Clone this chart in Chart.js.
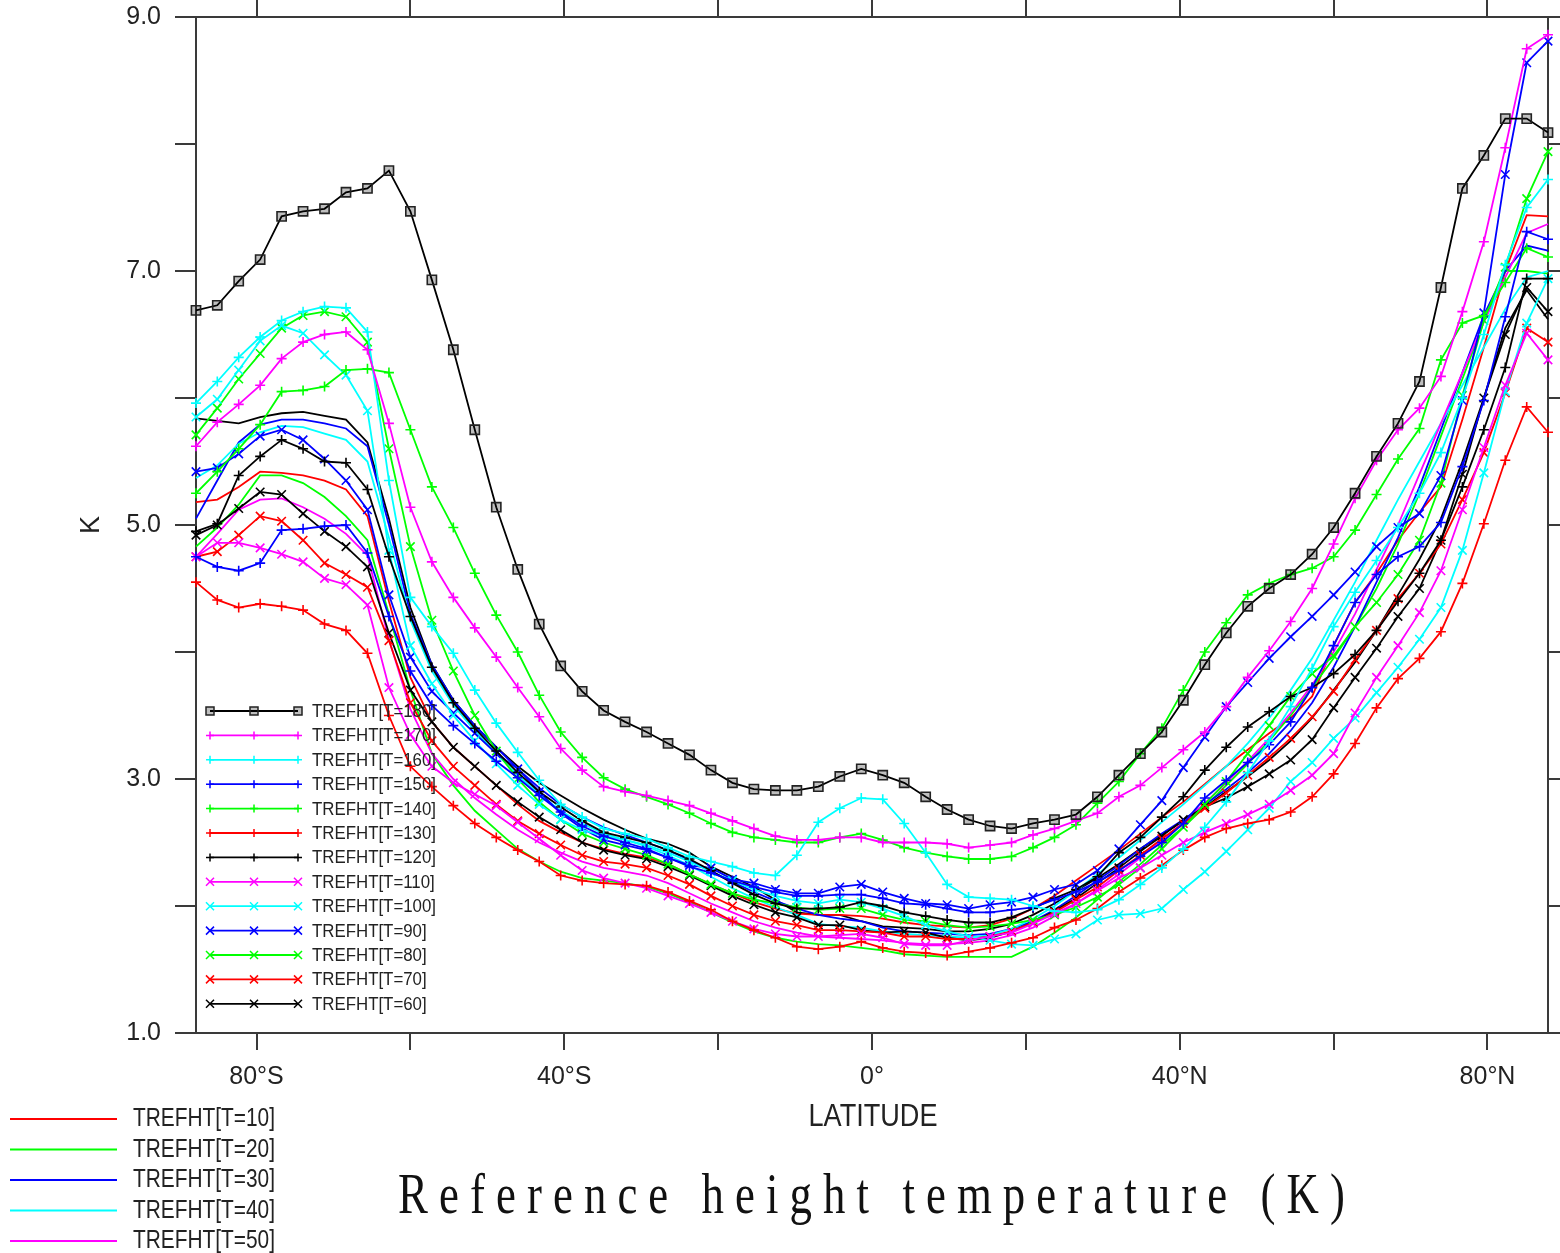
<!DOCTYPE html>
<html>
<head>
<meta charset="utf-8">
<script src="https://cdn.jsdelivr.net/npm/chart.js@4.4.1/dist/chart.umd.min.js"></script>
<style>
  html, body { margin: 0; padding: 0; background: #fff; }
  canvas { display: block; }
</style>
</head>
<body>
<canvas id="myChart" width="1560" height="1253"></canvas>
<script>
// T42 gaussian latitudes, north half (the south half mirrors it)
const northLats = [1.3953, 4.1859, 6.9765, 9.7671, 12.5578, 15.3484, 18.1390, 20.9296,
  23.7202, 26.5108, 29.3014, 32.0920, 34.8825, 37.6731, 40.4636, 43.2542,
  46.0447, 48.8352, 51.6257, 54.4162, 57.2066, 59.9970, 62.7874, 65.5776,
  68.3678, 71.1578, 73.9475, 76.7369, 79.5256, 82.3129, 85.0965, 87.8638];
const lats = northLats.slice().reverse().map(v => -v).concat(northLats);

const xTickValues = [-80, -60, -40, -20, 0, 20, 40, 60, 80];
const xTickLabels = ['80°S', '', '40°S', '', '0°', '', '40°N', '', '80°N'];
const yTickValues = [1, 2, 3, 4, 5, 6, 7, 8, 9];
const yTickLabels = ['1.0', '', '3.0', '', '5.0', '', '7.0', '', '9.0'];

const t180 = [6.69,6.73,6.92,7.09,7.43,7.47,7.49,7.62,7.65,7.79,7.47,6.93,6.38,5.75,5.14,4.65,
  4.22,3.89,3.69,3.54,3.45,3.37,3.28,3.19,3.07,2.97,2.92,2.91,2.91,2.94,3.02,3.08,
  3.03,2.97,2.86,2.76,2.68,2.63,2.61,2.65,2.68,2.72,2.86,3.03,3.20,3.37,3.62,3.90,
  4.15,4.36,4.50,4.61,4.77,4.98,5.25,5.54,5.80,6.13,6.87,7.65,7.91,8.20,8.20,8.09];
const t170 = [5.62,5.81,5.95,6.10,6.31,6.44,6.50,6.52,6.38,5.80,5.14,4.71,4.43,4.19,3.96,3.72,
  3.49,3.24,3.07,2.94,2.90,2.87,2.83,2.79,2.73,2.67,2.61,2.55,2.52,2.52,2.54,2.54,
  2.50,2.50,2.50,2.49,2.46,2.48,2.50,2.56,2.61,2.67,2.73,2.86,2.95,3.09,3.23,3.37,
  3.57,3.80,4.01,4.24,4.50,4.85,5.21,5.51,5.75,5.92,6.17,6.68,7.23,7.97,8.75,8.86];
const t160 = [5.96,6.13,6.32,6.48,6.61,6.68,6.72,6.71,6.52,5.35,4.43,4.20,3.99,3.70,3.44,3.21,
  2.99,2.80,2.70,2.61,2.57,2.53,2.46,2.39,2.35,2.31,2.26,2.24,2.40,2.66,2.77,2.85,
  2.84,2.65,2.42,2.17,2.07,2.06,2.05,2.00,1.96,1.95,1.97,2.05,2.17,2.30,2.45,2.62,
  2.82,3.05,3.30,3.57,3.87,4.20,4.47,4.72,4.98,5.25,5.57,6.00,6.50,7.05,7.50,7.72];
const t150 = [4.75,4.67,4.64,4.70,4.96,4.97,4.99,5.00,4.78,4.28,3.85,3.58,3.42,3.28,3.14,3.01,
  2.87,2.74,2.63,2.55,2.50,2.45,2.38,2.31,2.26,2.20,2.15,2.11,2.08,2.08,2.09,2.09,
  2.06,2.02,2.01,1.98,1.95,1.95,1.97,1.99,2.05,2.11,2.19,2.28,2.39,2.50,2.65,2.85,
  2.99,3.13,3.27,3.45,3.72,4.05,4.39,4.61,4.75,4.83,5.02,5.46,5.98,6.64,7.31,7.25];
const t140 = [5.25,5.42,5.60,5.79,6.05,6.06,6.09,6.22,6.23,6.20,5.75,5.30,4.98,4.62,4.29,4.00,
  3.66,3.37,3.17,3.01,2.92,2.86,2.80,2.73,2.65,2.58,2.54,2.52,2.50,2.50,2.54,2.57,
  2.52,2.46,2.42,2.39,2.37,2.37,2.39,2.46,2.54,2.64,2.81,2.98,3.20,3.40,3.70,4.00,
  4.23,4.45,4.54,4.61,4.66,4.75,4.96,5.24,5.52,5.76,6.30,6.59,6.65,6.91,7.18,7.11];
const t130 = [4.55,4.41,4.35,4.38,4.36,4.33,4.22,4.17,3.99,3.50,3.10,2.94,2.79,2.65,2.54,2.44,
  2.35,2.24,2.20,2.18,2.17,2.16,2.11,2.04,1.97,1.88,1.81,1.75,1.68,1.66,1.68,1.72,
  1.67,1.64,1.63,1.61,1.64,1.67,1.71,1.75,1.83,1.89,1.98,2.11,2.22,2.32,2.44,2.54,
  2.61,2.65,2.68,2.74,2.86,3.04,3.28,3.56,3.79,3.95,4.16,4.54,5.01,5.51,5.93,5.73];
const t120 = [4.95,5.01,5.39,5.54,5.67,5.60,5.50,5.49,5.28,4.75,4.28,3.88,3.60,3.40,3.22,3.05,
  2.90,2.78,2.67,2.58,2.54,2.50,2.44,2.37,2.28,2.18,2.09,2.02,1.98,1.98,1.99,2.03,
  2.00,1.95,1.92,1.89,1.87,1.87,1.91,1.98,2.06,2.13,2.23,2.42,2.54,2.70,2.86,3.07,
  3.25,3.41,3.53,3.65,3.72,3.83,3.98,4.17,4.40,4.62,4.88,5.30,5.75,6.24,6.94,6.94];
const t110 = [4.75,4.86,4.86,4.82,4.77,4.71,4.58,4.53,4.37,3.72,3.35,3.10,2.97,2.88,2.79,2.66,
  2.53,2.40,2.28,2.22,2.18,2.14,2.08,2.02,1.95,1.88,1.82,1.78,1.76,1.76,1.77,1.78,
  1.75,1.70,1.69,1.69,1.73,1.76,1.79,1.86,1.94,2.02,2.12,2.22,2.30,2.40,2.50,2.58,
  2.65,2.72,2.80,2.91,3.03,3.20,3.52,3.80,4.05,4.31,4.64,5.12,5.61,6.10,6.51,6.30];
const t100 = [5.85,5.99,6.22,6.45,6.57,6.51,6.34,6.18,5.90,4.80,4.05,3.75,3.50,3.30,3.12,2.95,
  2.80,2.68,2.60,2.55,2.52,2.48,2.42,2.35,2.27,2.20,2.13,2.08,2.04,2.02,2.05,2.03,
  1.98,1.92,1.85,1.80,1.76,1.73,1.70,1.69,1.74,1.78,1.89,1.93,1.94,1.98,2.13,2.27,
  2.43,2.60,2.77,2.98,3.13,3.32,3.48,3.68,3.88,4.10,4.35,4.80,5.41,6.05,6.59,6.94];
const t90 = [5.42,5.45,5.56,5.70,5.75,5.67,5.52,5.35,5.12,4.45,3.96,3.69,3.52,3.36,3.20,3.08,
  2.90,2.73,2.61,2.52,2.48,2.44,2.38,2.32,2.30,2.21,2.18,2.13,2.10,2.10,2.15,2.17,
  2.11,2.06,2.02,2.01,1.98,2.01,2.03,2.07,2.13,2.17,2.28,2.45,2.64,2.83,3.09,3.33,
  3.57,3.76,3.95,4.12,4.28,4.45,4.63,4.83,4.98,5.09,5.39,5.98,6.67,7.76,8.64,8.81];
const t80 = [5.71,5.92,6.15,6.35,6.55,6.65,6.68,6.64,6.44,5.60,4.83,4.25,3.85,3.50,3.22,3.00,
  2.82,2.68,2.57,2.50,2.45,2.40,2.33,2.25,2.17,2.10,2.05,2.02,1.99,1.97,1.98,1.98,
  1.93,1.89,1.88,1.85,1.83,1.84,1.86,1.89,1.93,1.99,2.07,2.17,2.30,2.45,2.62,2.80,
  2.98,3.20,3.42,3.65,3.83,3.97,4.20,4.39,4.61,4.88,5.33,6.02,6.61,7.03,7.57,7.94];
const t70 = [4.75,4.79,4.92,5.07,5.03,4.88,4.70,4.61,4.51,4.09,3.60,3.30,3.10,2.95,2.80,2.67,
  2.57,2.48,2.40,2.35,2.33,2.30,2.24,2.17,2.08,2.00,1.93,1.88,1.85,1.81,1.81,1.80,
  1.79,1.76,1.76,1.74,1.74,1.76,1.80,1.87,1.95,2.05,2.15,2.28,2.40,2.53,2.65,2.77,
  2.89,3.03,3.17,3.32,3.49,3.69,3.94,4.17,4.42,4.62,4.85,5.20,5.57,6.04,6.55,6.44];
const t60 = [4.92,5.00,5.13,5.26,5.24,5.09,4.95,4.83,4.67,4.15,3.70,3.45,3.25,3.10,2.95,2.82,
  2.70,2.60,2.50,2.44,2.40,2.37,2.31,2.24,2.16,2.08,2.01,1.95,1.91,1.85,1.85,1.81,
  1.79,1.80,1.79,1.75,1.73,1.75,1.80,1.87,1.96,2.06,2.18,2.30,2.43,2.55,2.68,2.78,
  2.85,2.94,3.04,3.15,3.31,3.56,3.80,4.03,4.28,4.50,4.88,5.40,6.00,6.50,6.87,6.68];
const t50 = [4.75,4.93,5.12,5.20,5.21,5.14,5.05,4.93,4.76,4.10,3.55,3.20,3.00,2.85,2.72,2.60,
  2.50,2.42,2.35,2.30,2.27,2.24,2.18,2.10,2.02,1.95,1.88,1.83,1.79,1.76,1.75,1.74,
  1.73,1.71,1.70,1.70,1.71,1.73,1.77,1.83,1.92,2.02,2.13,2.25,2.38,2.52,2.66,2.81,
  2.97,3.14,3.32,3.52,3.74,4.00,4.30,4.65,5.00,5.40,5.80,6.20,6.60,6.95,7.30,7.37];
const t40 = [5.37,5.47,5.64,5.73,5.78,5.77,5.72,5.67,5.50,4.90,4.25,3.85,3.58,3.38,3.20,3.03,
  2.88,2.75,2.65,2.57,2.52,2.47,2.40,2.32,2.23,2.14,2.06,1.99,1.93,1.86,1.84,1.83,
  1.80,1.78,1.77,1.76,1.75,1.77,1.82,1.90,2.00,2.12,2.25,2.38,2.52,2.66,2.80,2.95,
  3.10,3.28,3.48,3.70,3.95,4.25,4.55,4.88,5.20,5.50,5.80,6.10,6.40,6.70,6.95,7.00];
const t30 = [5.05,5.35,5.65,5.79,5.83,5.83,5.80,5.76,5.62,5.00,4.30,3.90,3.62,3.42,3.25,3.08,
  2.93,2.80,2.70,2.62,2.56,2.50,2.44,2.36,2.27,2.19,2.11,2.04,1.98,1.93,1.90,1.88,
  1.83,1.80,1.79,1.78,1.77,1.78,1.82,1.88,1.97,2.08,2.20,2.32,2.45,2.57,2.68,2.80,
  2.92,3.05,3.20,3.38,3.60,3.88,4.20,4.55,4.90,5.30,5.75,6.20,6.65,7.00,7.20,7.16];
const t20 = [4.83,4.98,5.16,5.39,5.39,5.33,5.22,5.07,4.88,4.30,3.70,3.20,2.95,2.75,2.60,2.45,
  2.35,2.27,2.22,2.20,2.18,2.15,2.10,2.03,1.95,1.87,1.80,1.75,1.72,1.70,1.69,1.67,
  1.65,1.62,1.61,1.60,1.60,1.60,1.60,1.68,1.79,1.91,2.05,2.19,2.33,2.48,2.62,2.78,
  2.95,3.12,3.30,3.50,3.72,3.95,4.20,4.50,4.85,5.25,5.70,6.15,6.60,7.00,7.00,6.98];
const t10 = [5.18,5.20,5.30,5.42,5.41,5.39,5.35,5.28,5.07,4.40,3.80,3.45,3.25,3.10,2.95,2.80,
  2.67,2.58,2.50,2.45,2.41,2.38,2.33,2.25,2.17,2.10,2.03,1.98,1.94,1.93,1.93,1.92,
  1.90,1.87,1.85,1.84,1.83,1.85,1.90,1.98,2.08,2.20,2.32,2.44,2.57,2.70,2.82,2.96,
  3.10,3.23,3.36,3.48,3.65,4.05,4.39,4.62,4.88,5.10,5.30,5.83,6.40,7.00,7.44,7.43];
// plain black curve visible in the plot whose legend entry is cut off
const t0 = [5.84,5.82,5.80,5.85,5.88,5.89,5.86,5.83,5.65,5.05,4.35,3.90,3.62,3.42,3.25,3.10,
  2.97,2.87,2.77,2.68,2.60,2.53,2.49,2.42,2.31,2.23,2.15,2.05,1.95,1.93,1.93,1.88,
  1.84,1.83,1.82,1.80,1.80,1.82,1.86,1.93,2.02,2.12,2.22,2.33,2.45,2.56,2.67,2.78,
  2.90,3.02,3.15,3.30,3.48,3.70,3.92,4.17,4.45,4.73,5.05,5.50,6.00,6.55,6.85,6.62];

// series: label, values, colour, marker
const series = [
  { label: 'TREFHT[T=180]', values: t180, color: '#000000', marker: 'rect' },
  { label: 'TREFHT[T=170]', values: t170, color: '#ff00ff', marker: 'cross' },
  { label: 'TREFHT[T=160]', values: t160, color: '#00ffff', marker: 'cross' },
  { label: 'TREFHT[T=150]', values: t150, color: '#0000ff', marker: 'cross' },
  { label: 'TREFHT[T=140]', values: t140, color: '#00ff00', marker: 'cross' },
  { label: 'TREFHT[T=130]', values: t130, color: '#ff0000', marker: 'cross' },
  { label: 'TREFHT[T=120]', values: t120, color: '#000000', marker: 'cross' },
  { label: 'TREFHT[T=110]', values: t110, color: '#ff00ff', marker: 'crossRot' },
  { label: 'TREFHT[T=100]', values: t100, color: '#00ffff', marker: 'crossRot' },
  { label: 'TREFHT[T=90]', values: t90, color: '#0000ff', marker: 'crossRot' },
  { label: 'TREFHT[T=80]', values: t80, color: '#00ff00', marker: 'crossRot' },
  { label: 'TREFHT[T=70]', values: t70, color: '#ff0000', marker: 'crossRot' },
  { label: 'TREFHT[T=60]', values: t60, color: '#000000', marker: 'crossRot' },
  { label: 'TREFHT[T=50]', values: t50, color: '#ff00ff', marker: false },
  { label: 'TREFHT[T=40]', values: t40, color: '#00ffff', marker: false },
  { label: 'TREFHT[T=30]', values: t30, color: '#0000ff', marker: false },
  { label: 'TREFHT[T=20]', values: t20, color: '#00ff00', marker: false },
  { label: 'TREFHT[T=10]', values: t10, color: '#ff0000', marker: false },
  { label: 'TREFHT[T=0]', values: t0, color: '#000000', marker: false }
];
const insideLegend = series.slice(0, 13);
const outsideLegend = series.slice(13, 18).reverse();

const AXIS = '#3a3a3a';

function markerRadius(m) { return m === 'rect' ? 6.5 : (m === 'crossRot' ? 6 : 5); }

const datasets = series.map(s => ({
  label: s.label,
  data: lats.map((lat, i) => ({ x: lat, y: s.values[i] })),
  borderColor: s.color,
  backgroundColor: s.marker === 'rect' ? 'rgba(0,0,0,0.25)' : s.color,
  borderWidth: 1.8,
  pointStyle: s.marker || 'circle',
  pointRadius: s.marker ? markerRadius(s.marker) : 0,
  pointBorderColor: s.marker === 'rect' ? '#222' : s.color,
  pointBorderWidth: 1.6,
  pointBackgroundColor: s.marker === 'rect' ? 'rgba(0,0,0,0.25)' : s.color,
  tension: 0,
  clip: false
}));

function fitText(ctx, text, x, y, width, font, align) {
  ctx.font = font;
  const w = ctx.measureText(text).width;
  ctx.save();
  ctx.translate(x, y);
  ctx.scale(width / w, 1);
  ctx.textAlign = 'left';
  ctx.fillText(text, align === 'center' ? -w / 2 : 0, 0);
  ctx.restore();
}

function drawMarker(ctx, m, x, y, r, color) {
  ctx.save();
  ctx.strokeStyle = m === 'rect' ? '#222' : color;
  ctx.lineWidth = 1.5;
  ctx.beginPath();
  if (m === 'rect') {
    ctx.fillStyle = 'rgba(0,0,0,0.25)';
    ctx.rect(x - r, y - r, 2 * r, 2 * r);
    ctx.fill();
  } else if (m === 'cross') {
    ctx.moveTo(x - r, y); ctx.lineTo(x + r, y);
    ctx.moveTo(x, y - r); ctx.lineTo(x, y + r);
  } else if (m === 'crossRot') {
    ctx.moveTo(x - r, y - r); ctx.lineTo(x + r, y + r);
    ctx.moveTo(x - r, y + r); ctx.lineTo(x + r, y - r);
  }
  ctx.stroke();
  ctx.restore();
}

const annotations = {
  id: 'annotations',
  afterDraw(chart) {
    const ctx = chart.ctx;
    ctx.save();
    ctx.fillStyle = '#222';
    ctx.textBaseline = 'middle';

    // legend inside the plot
    ctx.font = '18px "Liberation Sans"';
    const inScale = 124 / ctx.measureText('TREFHT[T=180]').width;
    insideLegend.forEach((s, k) => {
      const y = 711 + k * 24.4;
      ctx.strokeStyle = s.color;
      ctx.lineWidth = 1.8;
      ctx.beginPath(); ctx.moveTo(210, y); ctx.lineTo(298, y); ctx.stroke();
      [210, 254, 298].forEach(x => drawMarker(ctx, s.marker, x, y, 4, s.color));
      ctx.fillStyle = '#222';
      ctx.font = '18px "Liberation Sans"';
      const w = ctx.measureText(s.label).width;
      fitText(ctx, s.label, 312, y + 1, w * inScale, '18px "Liberation Sans"', 'left');
    });

    // legend under the plot
    ctx.font = '26px "Liberation Sans"';
    const outScale = 142 / ctx.measureText('TREFHT[T=10]').width;
    outsideLegend.forEach((s, k) => {
      const y = 1119 + k * 30.5;
      ctx.strokeStyle = s.color;
      ctx.lineWidth = 1.8;
      ctx.beginPath(); ctx.moveTo(10, y); ctx.lineTo(117, y); ctx.stroke();
      ctx.font = '26px "Liberation Sans"';
      const w = ctx.measureText(s.label).width;
      fitText(ctx, s.label, 133, y, w * outScale, '26px "Liberation Sans"', 'left');
    });

    // axis titles
    fitText(ctx, 'LATITUDE', 873, 1117, 129, '32px "Liberation Sans"', 'center');
    ctx.save();
    ctx.translate(92, 525);
    ctx.rotate(-Math.PI / 2);
    ctx.font = '27px "Liberation Sans"';
    ctx.textAlign = 'center';
    ctx.fillText('K', 0, 0);
    ctx.restore();

    // main title: tall narrow serif glyphs, spread to the reference width
    const title = 'Reference height temperature (K)';
    const sx = 0.8;
    ctx.font = '56px "Liberation Serif"';
    ctx.textAlign = 'left';
    ctx.textBaseline = 'alphabetic';
    const w0 = ctx.measureText(title).width;
    const gap = (947 - w0 * sx) / (title.length - 1) / sx;
    ctx.save();
    ctx.translate(398, 1213);
    ctx.scale(sx, 1);
    ctx.letterSpacing = gap.toFixed(2) + 'px';
    ctx.fillStyle = '#111';
    ctx.fillText(title, 0, 0);
    ctx.restore();
    ctx.restore();
  }
};

// fixed axis sizes, and no extra room reserved for half-labels at the ends
function fixSize(prop, size) {
  return scale => {
    scale[prop] = size;
    scale.paddingTop = 0; scale.paddingBottom = 0;
    scale.paddingLeft = 0; scale.paddingRight = 0;
  };
}

const xCommon = {
  type: 'linear',
  min: lats[0],
  max: lats[lats.length - 1],
  afterBuildTicks: scale => { scale.ticks = xTickValues.map(v => ({ value: v })); },
  grid: { drawOnChartArea: false, drawTicks: true, tickLength: 17, color: AXIS, lineWidth: 2 },
  border: { display: true, color: AXIS, width: 2 }
};
const yCommon = {
  type: 'linear',
  min: 1,
  max: 9,
  afterBuildTicks: scale => { scale.ticks = yTickValues.map(v => ({ value: v })); },
  grid: { drawOnChartArea: false, drawTicks: true, tickLength: 21, color: AXIS, lineWidth: 2 },
  border: { display: true, color: AXIS, width: 2 }
};

const ctx = document.getElementById('myChart').getContext('2d');
const chart = new Chart(ctx, {
  type: 'line',
  data: { datasets: datasets },
  options: {
    responsive: false,
    animation: false,
    devicePixelRatio: 1,
    layout: { padding: 0 },
    plugins: { legend: { display: false }, title: { display: false }, tooltip: { enabled: false } },
    scales: {
      x: Object.assign({}, xCommon, {
        position: 'bottom',
        ticks: {
          autoSkip: false, maxRotation: 0, padding: 12, color: '#222',
          font: { family: '"Liberation Sans"', size: 25 },
          callback: (v, i) => xTickLabels[i]
        },
        afterFit: fixSize('height', 220)
      }),
      x2: Object.assign({}, xCommon, {
        position: 'top',
        ticks: { display: false },
        afterFit: fixSize('height', 17)
      }),
      y: Object.assign({}, yCommon, {
        position: 'left',
        ticks: {
          padding: 14, color: '#222',
          font: { family: '"Liberation Sans"', size: 25 },
          callback: (v, i) => yTickLabels[i]
        },
        afterFit: fixSize('width', 196)
      }),
      y2: Object.assign({}, yCommon, {
        position: 'right',
        ticks: { display: false },
        afterFit: fixSize('width', 12)
      })
    }
  },
  plugins: [annotations]
});
</script>
</body>
</html>
